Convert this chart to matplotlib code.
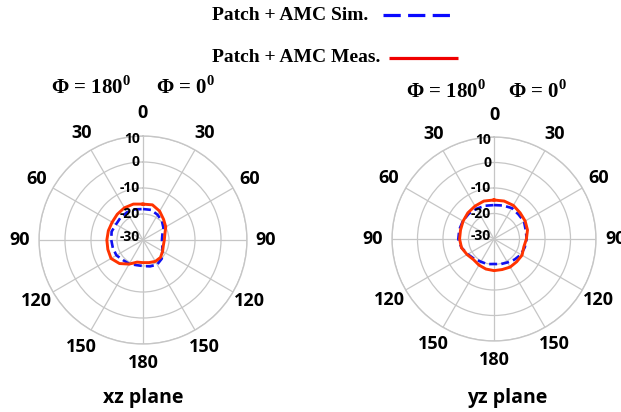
import numpy as np
import matplotlib
matplotlib.use("Agg")
import matplotlib.pyplot as plt
from matplotlib.lines import Line2D
from matplotlib.transforms import ScaledTranslation

# ---- data (dB vs theta, clockwise from top) ----
theta_deg = [0, 15, 30, 45, 60, 75, 90, 105, 120, 135, 150, 165,
             180, 195, 210, 225, 240, 255, 270, 285, 300, 315, 330, 345]

xz_meas = [-16.2, -16.0, -17.2, -18.8, -19.9, -21.3, -21.8, -21.9, -21.3, -20.5, -20.5, -21.0,
           -21.3, -21.2, -19.3, -17.2, -15.8, -16.0, -16.1, -16.2, -16.3, -16.0, -15.7, -15.7]
xz_sim = [-18.1, -18.0, -18.8, -19.7, -20.9, -22.3, -22.7, -22.3, -21.4, -19.8, -19.1, -19.5,
          -20.0, -20.0, -19.4, -19.1, -18.2, -18.0, -17.8, -17.5, -18.0, -17.8, -17.7, -17.8]

yz_meas = [-14.7, -14.6, -14.8, -15.5, -15.9, -16.4, -17.3, -17.9, -17.3, -17.4, -17.3, -17.6,
           -17.6, -17.8, -18.2, -18.6, -17.8, -16.8, -16.5, -16.4, -16.0, -15.5, -15.1, -14.6]
yz_sim = [-16.7, -16.4, -16.0, -16.4, -16.4, -17.1, -17.2, -17.5, -17.8, -18.6, -19.4, -19.8,
          -20.2, -19.8, -19.7, -19.0, -18.1, -16.8, -16.0, -15.9, -15.9, -16.0, -16.3, -16.5]

r_ticks = [-30, -20, -10, 0, 10]
angle_ticks = [0, 30, 60, 90, 120, 150, 180, 210, 240, 270, 300, 330]
angle_labels = ["0", "30", "60", "90", "120", "150", "180", "150", "120", "90", "60", "30"]

legend_labels = ["Patch + AMC Sim.", "Patch + AMC Meas."]
phi_labels = ["\u03a6 = 180$^{\\mathregular{0}}$", "\u03a6 = 0$^{\\mathregular{0}}$"]
plane_labels = ["xz plane", "yz plane"]

W, H = 621, 412
fig = plt.figure(figsize=(W / 100, H / 100), dpi=100)
fig.patch.set_facecolor("white")


def fx(px):
    return px / W


def fy(py):
    return 1 - py / H


SANS = "Open Sans"
SERIF = ["Liberation Serif", "DejaVu Serif"]
GRID = "#c6c6c6"
RED = "#ff3300"
BLUE = "#1010f0"


def make_polar(cx, cy, rad, meas, sim, lab_r, zero_r):
    ax = fig.add_axes([fx(cx - rad), fy(cy + rad), 2 * rad / W, 2 * rad / H],
                      projection="polar")
    ax.set_theta_zero_location("N")
    ax.set_theta_direction(-1)
    ax.set_rlim(r_ticks[0], r_ticks[-1])
    ax.set_rticks(r_ticks[1:])
    ax.set_yticklabels([])
    ax.set_xticks(np.deg2rad(angle_ticks))
    ax.set_xticklabels([])
    ax.grid(True, color=GRID, lw=0.9)
    ax.spines["polar"].set_color(GRID)
    ax.spines["polar"].set_linewidth(1.0)
    ax.tick_params(length=0)

    th = np.deg2rad(theta_deg + [360])
    ax.plot(th, sim + [sim[0]], color=BLUE, lw=1.9, dashes=(3.0, 1.6), zorder=3)
    ax.plot(th, meas + [meas[0]], color=RED, lw=2.1, zorder=4)

    for a, lab in zip(angle_ticks, angle_labels):
        r = zero_r if a == 0 else lab_r
        ax.text(np.deg2rad(a), r, lab, ha="center", va="center", fontsize=13,
                fontweight="bold", family=SANS, clip_on=False)

    dys = {-30: 3, -20: -0.5, -10: 0, 0: -0.5, 10: -2.7}
    for v in r_ticks:
        tr = ax.transData + ScaledTranslation(-3 / 100, dys[v] / 100, fig.dpi_scale_trans)
        ax.text(0, v, str(v), ha="right", va="center", fontsize=10,
                fontweight="bold", family=SANS, transform=tr, zorder=6)
    return ax


make_polar(143, 240, 104, xz_meas, xz_sim, 17.3, 18.8)
make_polar(494, 239, 102, yz_meas, yz_sim, 17.5, 18.6)

# Phi labels
PHI_FS = 15
fig.text(fx(51), fy(87), phi_labels[0], ha="left", va="center", fontsize=PHI_FS,
         fontweight="bold", family=SERIF)
fig.text(fx(156), fy(87), phi_labels[1], ha="left", va="center", fontsize=PHI_FS,
         fontweight="bold", family=SERIF)
fig.text(fx(406), fy(91), phi_labels[0], ha="left", va="center", fontsize=PHI_FS,
         fontweight="bold", family=SERIF)
fig.text(fx(508), fy(91), phi_labels[1], ha="left", va="center", fontsize=PHI_FS,
         fontweight="bold", family=SERIF)

# plane labels
fig.text(fx(143), fy(398), plane_labels[0], ha="center", va="center", fontsize=14,
         fontweight="bold", family=SANS)
fig.text(fx(507), fy(398), plane_labels[1], ha="center", va="center", fontsize=14,
         fontweight="bold", family=SANS)

# legend
fig.text(fx(212), fy(15), legend_labels[0], ha="left", va="center", fontsize=14,
         fontweight="bold", family=SERIF)
fig.text(fx(212), fy(58), legend_labels[1], ha="left", va="center", fontsize=14,
         fontweight="bold", family=SERIF)
fig.add_artist(Line2D([fx(383), fx(453)], [fy(15), fy(15)], color="#0a0aff", lw=2.3,
                      dashes=(5.4, 2.3), transform=fig.transFigure))
fig.add_artist(Line2D([fx(389), fx(458)], [fy(58), fy(58)], color="#f00000", lw=2.3,
                      transform=fig.transFigure, solid_capstyle="butt"))

fig.savefig("out.png", dpi=100)
